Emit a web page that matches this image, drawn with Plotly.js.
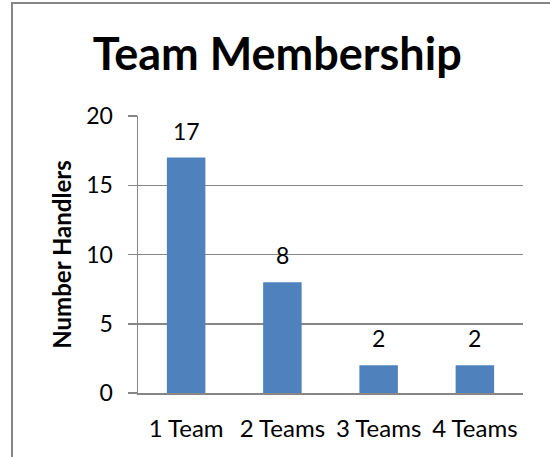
<!DOCTYPE html>
<html>
<head>
<meta charset="utf-8">
<script src="https://cdn.plot.ly/plotly-3.0.1.min.js"></script>
<style>
html,body{margin:0;padding:0;background:#fff;}
#chart{width:550px;height:457px;}
</style>
</head>
<body>
<div id="chart"></div>
<script>
const categories = ["1 Team", "2 Teams", "3 Teams", "4 Teams"];
const handlers = [17, 8, 2, 2];
const yTicks = [0, 5, 10, 15, 20];

const FONT = "Lato, 'Liberation Sans', sans-serif";
const GRID = "#868686";

const trace = {
  type: "bar",
  x: categories,
  y: handlers,
  marker: {color: "#4F81BD"},
  hoverinfo: "none"
};

const annotations = categories.map((c, i) => ({
  x: c, y: handlers[i], xref: "x", yref: "y",
  text: String(handlers[i]), showarrow: false,
  yanchor: "bottom", yshift: 11,
  font: {family: FONT, size: 23, color: "#000"}
}));

const bx0 = (12 - 138) / 385, bx1 = (560 - 138) / 385;
const by0 = (393 - 475) / 277, by1 = (393 - 3) / 277;

const layout = {
  width: 550, height: 457,
  margin: {l: 138, r: 27, t: 116, b: 64},
  paper_bgcolor: "#fff", plot_bgcolor: "#fff",
  showlegend: false,
  bargap: 0.6,
  font: {family: FONT, color: "#000"},
  title: {
    text: "<b>Team Membership</b>",
    font: {family: FONT, size: 45, color: "#000"},
    xref: "container", yref: "container",
    x: 0.504, y: 1 - 54/457, xanchor: "center", yanchor: "middle"
  },
  xaxis: {
    type: "category",
    showgrid: false, zeroline: false,
    showline: true, linecolor: GRID, linewidth: 1.5,
    ticks: "", ticklabelstandoff: 14,
    tickfont: {family: FONT, size: 24, color: "#000"}
  },
  yaxis: {
    range: [0, 20], tickvals: yTicks, ticktext: yTicks.map(String),
    showgrid: true, gridcolor: GRID, gridwidth: 1.5,
    zeroline: false,
    showline: true, linecolor: GRID, linewidth: 1.5,
    ticks: "outside", ticklen: 9, tickcolor: GRID, tickwidth: 1.5,
    ticklabelstandoff: 10,
    tickfont: {family: FONT, size: 23, color: "#000"},
    title: {text: "<b>Number Handlers</b>", font: {family: FONT, size: 24, color: "#000"}, standoff: 8}
  },
  annotations: annotations,
  shapes: [{
    type: "path", xref: "paper", yref: "paper",
    path: `M ${bx0},${by0} L ${bx0},${by1} L ${bx1},${by1}`,
    line: {color: "#868686", width: 2}, layer: "below"
  }]
};

Plotly.newPlot("chart", [trace], layout, {displayModeBar: false, staticPlot: true});
</script>
</body>
</html>
